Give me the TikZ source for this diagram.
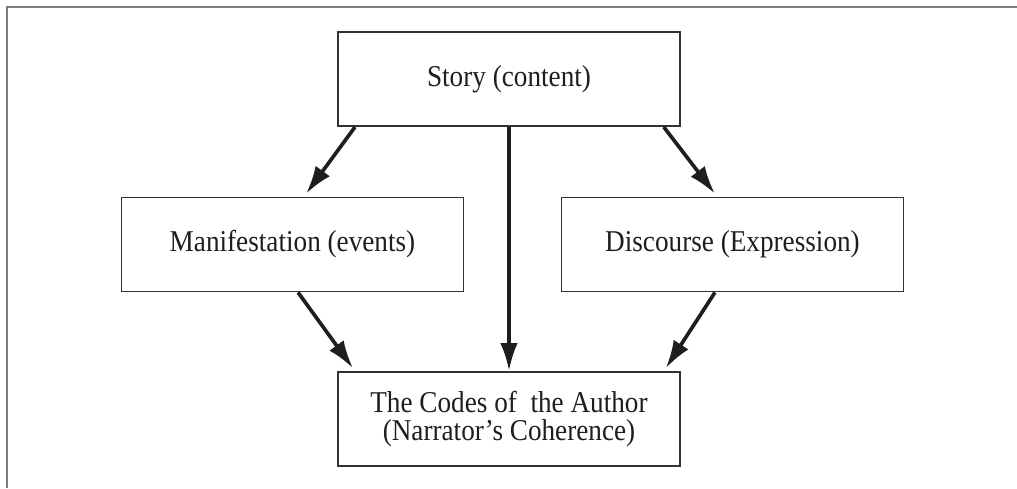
\documentclass[tikz,border=0pt]{standalone}
\usepackage{fontspec}
\setmainfont{Liberation Serif}[FakeStretch=0.9]
\usepackage{tikz}
\usetikzlibrary{arrows.meta,positioning}
\definecolor{framegray}{RGB}{125,125,125}
\definecolor{boxgray}{RGB}{50,50,50}
\definecolor{inkgray}{RGB}{30,30,30}
\tikzset{font=\fontsize{21.5}{20}\selectfont}
\tikzset{narrbox/.style={draw=boxgray, line width=1.4pt, text=inkgray,
    minimum width=8.55cm, minimum height=2.35cm, align=center,
    inner sep=0pt}}
\tikzset{flow/.style={draw=inkgray, line width=2.6pt,
    -{Latex[length=0.7cm,width=0.44cm]}}}

\begin{document}
\begin{tikzpicture}
  \useasboundingbox (0,0) rectangle (25.425,-12.2);
% frame
  \draw[framegray, line width=0.05cm] (0.175,-12.2) -- (0.175,-0.1625)
    -- (25.425,-0.1625);

  \node[narrbox] (story) at (12.725,-1.975) {Story (content)};
  \node[narrbox] (manif) at (7.3125,-6.1125) {Manifestation (events)};
  \node[narrbox] (disc) at (18.3125,-6.1125) {Discourse (Expression)};
  \node[narrbox] (codes) at (12.725,-10.475)
    {The Codes of\ \ the Author\\(Narrator’s Coherence)};

% arrows
  \draw[flow] ([xshift=0.45cm]story.south west)
    -- ([xshift=0.34cm,yshift=0.07cm]manif.north);
  \draw[flow] ([xshift=-0.43cm]story.south east)
    -- ([xshift=-0.44cm,yshift=0.07cm]disc.north);
  \draw[flow] (story.south) -- (codes.north);
  \draw[flow] ([xshift=0.14cm]manif.south)
    -- ([xshift=0.4cm,yshift=0.07cm]codes.north west);
  \draw[flow] ([xshift=-0.44cm]disc.south)
    -- ([xshift=-0.38cm,yshift=0.07cm]codes.north east);
\end{tikzpicture}
\end{document}
